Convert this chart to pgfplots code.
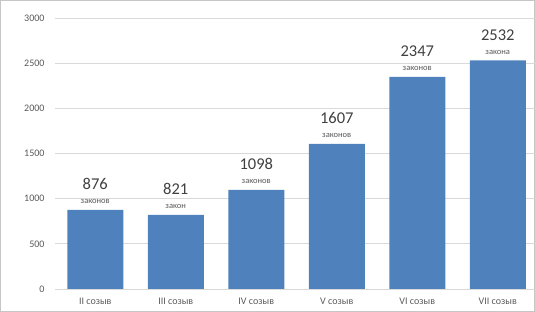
\documentclass[border=0pt]{standalone}
\usepackage{pgfplots}
\pgfplotsset{compat=1.18}
\usepackage{pgfplotstable}
\usepackage{fontspec}
\setmainfont{Carlito}
\definecolor{barblue}{HTML}{4F81BD}
\definecolor{numgray}{HTML}{404040}
\definecolor{lblgray}{HTML}{595959}
\definecolor{gridgray}{HTML}{D9D9D9}
\pgfplotstableread[col sep=comma]{
x,y,word
0,876,законов
1,821,закон
2,1098,законов
3,1607,законов
4,2347,законов
5,2532,закона
}\data
\begin{document}
\begin{tikzpicture}
\useasboundingbox (0,0) rectangle (535pt,312pt);
\draw[gray!45, line width=0.6pt] (0.3pt,0.3pt) rectangle (534.7pt,311.7pt);
\begin{axis}[
  at={(55pt,23pt)}, anchor=south west,
  scale only axis, width=483pt, height=271pt,
  xmin=-0.5, xmax=5.5, ymin=0, ymax=3000,
  ytick={0,500,...,3000},
  xtick=data,
  xticklabels={II созыв, III созыв, IV созыв, V созыв, VI созыв, VII созыв},
  axis line style={draw=none},
  major tick length=0pt,
  ymajorgrids,
  grid style={draw=gridgray, line width=0.8pt},
  tick label style={font=\fontsize{10}{12}\selectfont, text=lblgray},
  yticklabel style={xshift=-7pt},
  xticklabel style={yshift=-6pt},
  /pgf/number format/1000 sep={},
  /pgf/number format/assume math mode=true,
  clip=false,
]
\addplot[ybar, bar width=56pt, fill=barblue, draw=none,
  point meta=explicit symbolic,
  visualization depends on={y \as \yval},
  nodes near coords={{\fontsize{16.5}{17}\selectfont\color{numgray}\pgfmathprintnumber[fixed,precision=0,1000 sep={}]{\yval}}\\[2pt]{\fontsize{8.5}{9}\selectfont\color{lblgray}\pgfplotspointmeta}},
  every node near coord/.append style={align=center, anchor=south, inner sep=1pt, yshift=5pt},
] table[x=x, y=y, meta=word] {\data};
\end{axis}
\end{tikzpicture}
\end{document}
